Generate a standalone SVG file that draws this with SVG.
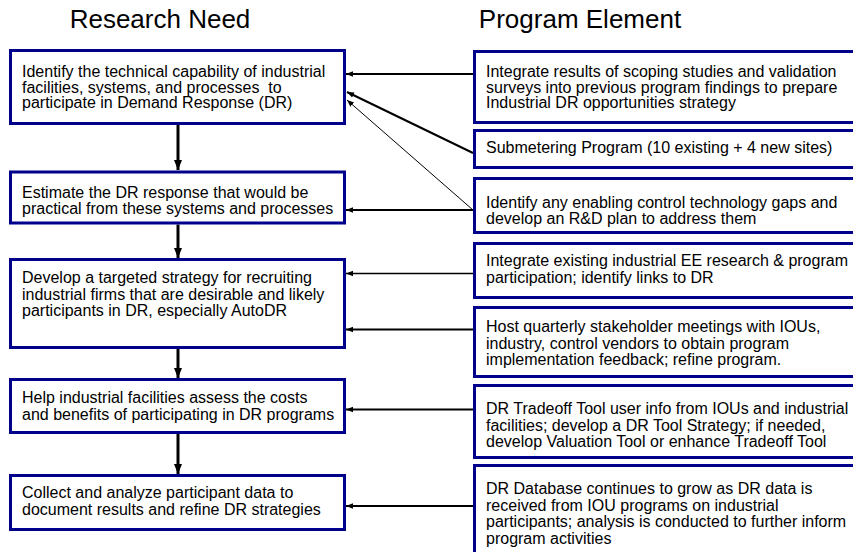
<svg xmlns="http://www.w3.org/2000/svg" width="853" height="552" viewBox="0 0 853 552">
<defs>
<style>
.box{fill:#fff;stroke:#00008B;stroke-width:3}
.t{font-family:"Liberation Sans",Arial,sans-serif;font-size:16px;fill:#000}
.title{font-family:"Liberation Sans",Arial,sans-serif;font-size:26px;fill:#000;text-anchor:middle}
.v{stroke:#000;stroke-width:3;fill:none}
.h{stroke:#000;stroke-width:2;fill:none}
</style>
<marker id="av" markerUnits="userSpaceOnUse" markerWidth="10" markerHeight="10" viewBox="0 0 10 10" refX="10" refY="5" orient="auto"><path d="M0,1 L10,5 L0,9 Z" fill="#000"/></marker>
<marker id="ah" markerUnits="userSpaceOnUse" markerWidth="7" markerHeight="7" viewBox="0 0 10 10" refX="10" refY="5" orient="auto"><path d="M0,1 L10,5 L0,9 Z" fill="#000"/></marker>
</defs>
<rect width="853" height="552" fill="#fff"/>
<text class="title" x="160" y="28">Research Need</text>
<text class="title" x="580" y="28">Program Element</text>

<g id="connectors">
<line class="v" x1="178" y1="125" x2="178" y2="170" marker-end="url(#av)"/>
<line class="v" x1="178" y1="224.5" x2="178" y2="258" marker-end="url(#av)"/>
<line class="v" x1="178" y1="349" x2="178" y2="378" marker-end="url(#av)"/>
<line class="v" x1="178" y1="434" x2="178" y2="474" marker-end="url(#av)"/>
<line class="h" x1="473" y1="74" x2="346" y2="74" marker-end="url(#ah)"/>
<line class="h" x1="473" y1="153" x2="347" y2="92" marker-end="url(#ah)"/>
<line class="h" style="stroke-width:1" x1="473" y1="210" x2="347" y2="100" marker-end="url(#ah)"/>
<line class="h" x1="473" y1="210" x2="346" y2="210" marker-end="url(#ah)"/>
<line class="h" style="stroke-width:1.5" x1="473" y1="273.5" x2="346" y2="273.5" marker-end="url(#ah)"/>
<line class="h" x1="473" y1="329.5" x2="346" y2="329.5" marker-end="url(#ah)"/>
<line class="h" x1="473" y1="409.5" x2="346" y2="409.5" marker-end="url(#ah)"/>
<line class="h" x1="473" y1="506" x2="346" y2="506" marker-end="url(#ah)"/>
</g>

<g id="need1"><rect class="box" x="10.5" y="50.5" width="334" height="73"/>
<text class="t" xml:space="preserve"><tspan x="22" y="77">Identify the technical capability of industrial</tspan><tspan x="22" y="92.5">facilities, systems, and processes  to</tspan><tspan x="22" y="108">participate in Demand Response (DR)</tspan></text></g>
<g id="need2"><rect class="box" x="10.5" y="172" width="334" height="51"/>
<text class="t"><tspan x="22" y="198">Estimate the DR response that would be</tspan><tspan x="22" y="214">practical from these systems and processes</tspan></text></g>
<g id="need3"><rect class="box" x="10.5" y="259.5" width="334" height="88"/>
<text class="t"><tspan x="22" y="283">Develop a targeted strategy for recruiting</tspan><tspan x="22" y="299.5">industrial firms that are desirable and likely</tspan><tspan x="22" y="316">participants in DR, especially AutoDR</tspan></text></g>
<g id="need4"><rect class="box" x="10.5" y="379.5" width="334" height="53"/>
<text class="t"><tspan x="22" y="403">Help industrial facilities assess the costs</tspan><tspan x="22" y="420">and benefits of participating in DR programs</tspan></text></g>
<g id="need5"><rect class="box" x="10.5" y="475.5" width="334" height="54"/>
<text class="t"><tspan x="22" y="498">Collect and analyze participant data to</tspan><tspan x="22" y="515">document results and refine DR strategies</tspan></text></g>

<g id="elem1"><rect class="box" x="474.5" y="51.5" width="400" height="71"/>
<text class="t"><tspan x="486" y="77">Integrate results of scoping studies and validation</tspan><tspan x="486" y="92.5">surveys into previous program findings to prepare</tspan><tspan x="486" y="108">Industrial DR opportunities strategy</tspan></text></g>
<g id="elem2"><rect class="box" x="474.5" y="130.5" width="400" height="37"/>
<text class="t" x="486" y="153">Submetering Program (10 existing + 4 new sites)</text></g>
<g id="elem3"><rect class="box" x="474.5" y="178.5" width="400" height="54"/>
<text class="t"><tspan x="486" y="208">Identify any enabling control technology gaps and</tspan><tspan x="486" y="224">develop an R&amp;D plan to address them</tspan></text></g>
<g id="elem4"><rect class="box" x="474.5" y="243.5" width="400" height="54"/>
<text class="t"><tspan x="486" y="266">Integrate existing industrial EE research &amp; program</tspan><tspan x="486" y="283">participation; identify links to DR</tspan></text></g>
<g id="elem5"><rect class="box" x="474.5" y="307.5" width="400" height="69"/>
<text class="t"><tspan x="486" y="332">Host quarterly stakeholder meetings with IOUs,</tspan><tspan x="486" y="348.5">industry, control vendors to obtain program</tspan><tspan x="486" y="365">implementation feedback; refine program.</tspan></text></g>
<g id="elem6"><rect class="box" x="474.5" y="385.5" width="400" height="72"/>
<text class="t"><tspan x="486" y="414">DR Tradeoff Tool user info from IOUs and industrial</tspan><tspan x="486" y="430.5">facilities; develop a DR Tool Strategy; if needed,</tspan><tspan x="486" y="447">develop Valuation Tool or enhance Tradeoff Tool</tspan></text></g>
<g id="elem7"><rect class="box" x="474.5" y="465.5" width="400" height="100"/>
<text class="t"><tspan x="486" y="494">DR Database continues to grow as DR data is</tspan><tspan x="486" y="510.5">received from IOU programs on industrial</tspan><tspan x="486" y="527">participants; analysis is conducted to further inform</tspan><tspan x="486" y="543.5">program activities</tspan></text></g>
</svg>
